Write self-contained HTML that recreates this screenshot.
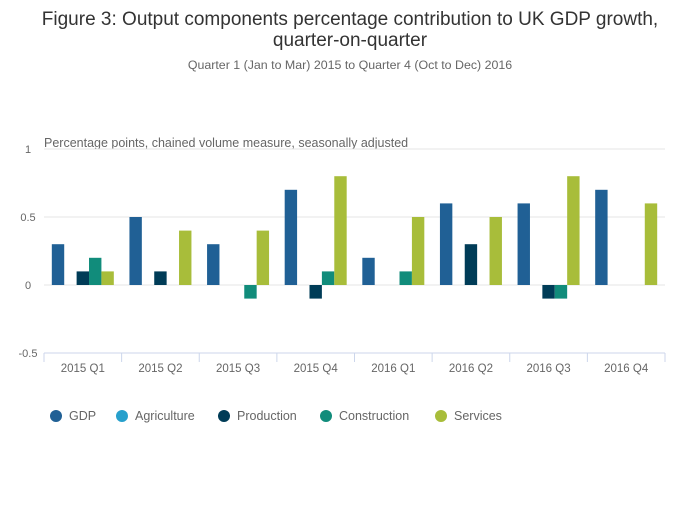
<!DOCTYPE html>
<html><head><meta charset="utf-8"><style>
body{margin:0;background:#fff;font-family:"Liberation Sans",sans-serif;}
svg text{font-family:"Liberation Sans",sans-serif;}
</style></head><body>
<svg width="700" height="502" xmlns="http://www.w3.org/2000/svg">
<text x="350" y="25" text-anchor="middle" font-size="19" fill="#333">Figure 3: Output components percentage contribution to UK GDP growth,</text>
<text x="350" y="46" text-anchor="middle" font-size="19" fill="#333">quarter-on-quarter</text>
<text x="350" y="69" text-anchor="middle" font-size="12.4" fill="#666">Quarter 1 (Jan to Mar) 2015 to Quarter 4 (Oct to Dec) 2016</text>
<text x="44" y="147" font-size="12.5" fill="#666">Percentage points, chained volume measure, seasonally adjusted</text>
<g id="grid"></g><g id="bars"></g><g id="xaxis"></g><g id="legend"></g>
</svg>
<script>
const categories=["2015 Q1","2015 Q2","2015 Q3","2015 Q4","2016 Q1","2016 Q2","2016 Q3","2016 Q4"];
const seriesNames=["GDP","Agriculture","Production","Construction","Services"];
const seriesColors=["#206095","#27a0cc","#003c57","#118c7b","#a8bd3a"];
const gdp=[0.3,0.5,0.3,0.7,0.2,0.6,0.6,0.7];
const agriculture=[0,0,0,0,0,0,0,0];
const production=[0.1,0.1,0,-0.1,0,0.3,-0.1,0];
const construction=[0.2,0,-0.1,0.1,0.1,0,-0.1,0];
const services=[0.1,0.4,0.4,0.8,0.5,0.5,0.8,0.6];
const yTicks=[-0.5,0,0.5,1];
const yTickLabels=["-0.5","0","0.5","1"];
const series=[gdp,agriculture,production,construction,services];
const NS="http://www.w3.org/2000/svg";
const X0=44,X1=665,Y0=285,PPU=136;
const gw=(X1-X0)/categories.length;
const bw=12.4,pad=(gw-bw*5)/2;
function y(v){return Y0-v*PPU;}
function mk(t,a,p){const e=document.createElementNS(NS,t);for(const k in a)e.setAttribute(k,a[k]);p.appendChild(e);return e;}
const grid=document.getElementById('grid');
yTicks.forEach((t,i)=>{
 if(t>-0.5){const l=mk('line',{x1:X0,x2:X1,y1:y(t),y2:y(t),stroke:'#e6e6e6','stroke-width':1},grid);
 
 }
 const tx=mk('text',{x:28,y:y(t)+4,'font-size':11,fill:'#666','text-anchor':'middle'},grid);tx.textContent=yTickLabels[i];
 
 
});
const bars=document.getElementById('bars');
series.forEach((s,si)=>{s.forEach((v,ci)=>{
 if(v===0)return;
 const x=X0+ci*gw+pad+si*bw;
 const r=mk('rect',{x:x,y:Math.min(y(v),Y0),width:bw,height:Math.abs(v)*PPU,fill:seriesColors[si]},bars);
 
 
});});
const xa=document.getElementById('xaxis');
const ax=mk('line',{x1:X0,x2:X1,y1:353,y2:353,stroke:'#ccd6eb','stroke-width':1},xa);


for(let i=0;i<=categories.length;i++){
 const tk=mk('line',{x1:X0+i*gw,x2:X0+i*gw,y1:353,y2:362,stroke:'#ccd6eb'},xa);
 
 
}
categories.forEach((c,i)=>{const t=mk('text',{x:X0+(i+0.5)*gw,y:372,'font-size':11.5,fill:'#666','text-anchor':'middle'},xa);t.textContent=c;
 
 });
const lg=document.getElementById('legend');
const lx=[56,122,224,326,441];
seriesNames.forEach((n,i)=>{
 const g=mk('g',{},lg);
 
 
 mk('circle',{cx:lx[i],cy:416,r:6,fill:seriesColors[i]},g);
 const t=mk('text',{x:lx[i]+13,y:420,'font-size':12.5,fill:'#666'},g);t.textContent=n;
});
</script>
</body></html>
